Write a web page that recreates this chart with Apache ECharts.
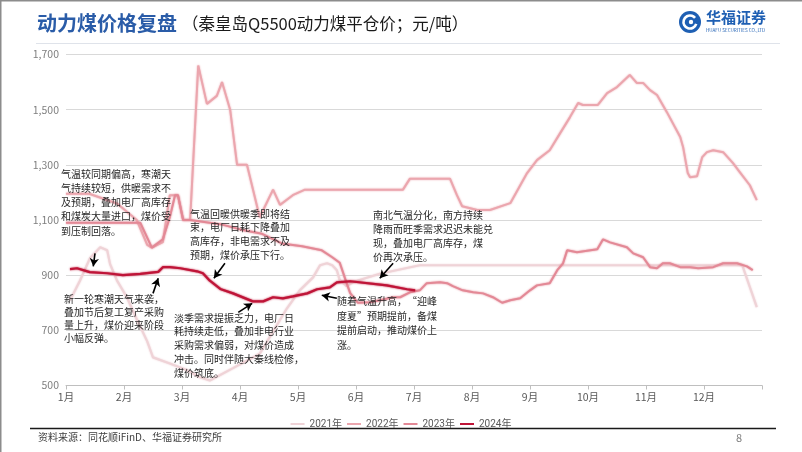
<!DOCTYPE html>
<html><head><meta charset="utf-8">
<script src="https://cdn.jsdelivr.net/npm/echarts@6/dist/echarts.min.js"></script>
<style>html,body{margin:0;padding:0;background:#fff}#c{width:802px;height:452px}</style>
</head><body><div id="c"></div>
<script>
// x = month position (0 = 1 Jan, 12 = 31 Dec), y = price (元/吨)
const monthLabels = ['1月','2月','3月','4月','5月','6月','7月','8月','9月','10月','11月','12月'];
const legendNames = ['2021年','2022年','2023年','2024年'];
const yTicks = [500, 700, 900, 1100, 1300, 1500, 1700];

const x2021 = [0.07,0.24,0.41,0.59,0.71,0.76,0.88,1.05,1.22,1.40,1.50,1.79,2.09,2.31,2.48,2.88,3.34,3.81,4.03,4.26,4.38,4.50,4.59,4.67,4.72,4.84,4.95,5.41,6.10,11.66,11.91];
const y2021 = [809,880,960,1001,990,940,880,820,740,660,602,580,555,530,518,563,615,780,845,892,936,943,936,918,882,860,875,905,936,936,784];

const x2022 = [0.00,0.40,0.88,1.22,1.40,1.48,1.67,1.79,1.93,2.02,2.14,2.28,2.43,2.60,2.69,2.83,2.95,3.12,3.34,3.57,3.69,3.91,4.12,5.81,5.93,6.62,6.74,6.83,7.09,7.31,7.66,7.95,8.12,8.34,8.52,8.69,8.83,8.91,9.17,9.33,9.50,9.72,9.84,9.95,10.07,10.19,10.36,10.59,10.64,10.72,10.76,10.88,10.97,11.05,11.16,11.33,11.50,11.62,11.79,11.91];
const y2022 = [1195,1195,1160,1100,1010,1000,1020,1190,1190,1100,1100,1660,1521,1550,1600,1500,1300,1300,1110,1210,1155,1190,1210,1210,1250,1250,1190,1150,1136,1136,1161,1270,1317,1353,1415,1473,1524,1517,1517,1560,1582,1626,1597,1597,1571,1553,1491,1401,1364,1270,1255,1259,1328,1346,1353,1346,1306,1273,1226,1172];

const x2023 = [0.00,1.28,1.48,1.67,1.79,1.88,1.93,2.02,2.14,2.66,3.02,3.38,3.72,4.07,4.41,4.59,4.72,4.84,4.90,5.03,5.24,5.41,5.64,5.76,5.93,6.10,6.22,6.45,6.57,6.67,6.84,7.02,7.19,7.36,7.52,7.66,7.83,8.00,8.12,8.34,8.47,8.57,8.64,8.81,9.16,9.26,9.38,9.67,9.78,9.95,10.07,10.19,10.29,10.41,10.59,10.76,10.90,11.16,11.33,11.57,11.74,11.84];
const y2023 = [1090,1090,1000,1030,1110,1190,1190,1100,1100,1085,1065,1050,1015,1005,990,965,945,870,835,800,802,809,820,820,838,845,871,874,871,860,845,838,834,820,800,809,816,845,863,871,918,943,990,983,994,1030,1019,1001,979,965,929,925,943,943,929,929,925,929,943,943,932,918];

const x2024 = [0.07,0.19,0.41,0.71,0.98,1.28,1.59,1.67,1.79,1.97,2.26,2.36,2.48,2.66,2.88,3.22,3.40,3.57,3.74,3.91,4.16,4.33,4.55,4.67,4.90,5.53,5.88,6.02];
const y2024 = [922,925,911,907,900,905,912,929,929,925,914,907,880,850,834,805,805,820,816,823,834,849,856,874,878,863,849,845];

// annotation arrows: [x1, y1, x2(tip), y2(tip)] in data units
const arrows = [
  [0.50, 979, 0.47, 932],
  [1.50, 834, 1.59, 889],
  [2.74, 943, 2.55, 889],
  [2.97, 765, 3.21, 798],
  [5.64, 943, 5.41, 889],
  [4.67, 816, 4.41, 827]
];
const notes = [
  '气温较同期偏高，寒潮天\n气持续较短，供暖需求不\n及预期，叠加电厂高库存\n和煤炭大量进口，煤价受\n到压制回落。',
  '新一轮寒潮天气来袭，\n叠加节后复工复产采购\n量上升，煤价迎来阶段\n小幅反弹。',
  '气温回暖供暖季即将结\n束，电厂日耗下降叠加\n高库存，非电需求不及\n预期，煤价承压下行。',
  '淡季需求提振乏力，电厂日\n耗持续走低，叠加非电行业\n采购需求偏弱，对煤价造成\n冲击。同时伴随大秦线检修，\n煤价筑底。',
  '南北气温分化，南方持续\n降雨而旺季需求迟迟未能兑\n现，叠加电厂高库存，煤\n价再次承压。',
  '随着气温升高，“迎峰\n度夏”预期提前，备煤\n提前启动，推动煤价上\n涨。'
];
const notePos = [[61,167,14.2],[64,293,13],[190,207,13.8],[174,311,13.8],[373,208,14],[337,294,14.6]];

const zip = (xs, ys) => xs.map((x, i) => [x, ys[i]]);
const colors = ['#efd3d7', '#eba6ae', '#e38996', '#bf1538'];
const FONT = '"Noto Sans CJK SC", "Noto Sans", sans-serif';

const chart = echarts.init(document.getElementById('c'), null, {renderer: 'canvas'});

const mkSeries = (name, data, color, z, w) => ({
  name, type: 'line', data, showSymbol: false, symbol: 'none', z,
  lineStyle: {color, width: w, shadowColor: color, shadowBlur: 2},
  itemStyle: {color}, animation: false
});

const series = [
  mkSeries(legendNames[0], zip(x2021, y2021), colors[0], 2, 2.2),
  mkSeries(legendNames[1], zip(x2022, y2022), colors[1], 3, 2),
  mkSeries(legendNames[2], zip(x2023, y2023), colors[2], 4, 2),
  mkSeries(legendNames[3], zip(x2024, y2024), colors[3], 5, 2.2)
];
series[3].markLine = {
  silent: true, animation: false, symbol: ['none', 'arrow'], symbolSize: [7, 8],
  label: {show: false},
  lineStyle: {color: '#000', width: 1.6, type: 'solid'},
  data: arrows.map(a => [{coord: [a[0], a[1]]}, {coord: [a[2], a[3]]}])
};

const graphics = [
  {type: 'line', shape: {x1: 0.5, y1: 0, x2: 0.5, y2: 452}, style: {stroke: '#8c8c8c', lineWidth: 2}},
  {type: 'line', shape: {x1: 0, y1: 0.5, x2: 802, y2: 0.5}, style: {stroke: '#8c8c8c', lineWidth: 2}},
  {type: 'text', left: 37, top: 13, style: {text: '动力煤价格复盘', font: 'bold 20px ' + FONT, fill: '#2a5ca8'}},
  {type: 'text', left: 182, top: 15, style: {text: '（秦皇岛Q5500动力煤平仓价；元/吨）', font: '16.5px ' + FONT, fill: '#1a1a1a'}},
  {type: 'line', shape: {x1: 36, y1: 43.5, x2: 780, y2: 43.5}, style: {stroke: '#dfe3ea', lineWidth: 1}},
  // logo
  {type: 'circle', shape: {cx: 690, cy: 22, r: 11}, style: {fill: '#1e5fb3'}},
  {type: 'arc', shape: {cx: 690, cy: 22, r: 6.5, startAngle: 0.3, endAngle: 5.6}, style: {stroke: '#fff', lineWidth: 2.6, fill: null}},
  {type: 'circle', shape: {cx: 691, cy: 22, r: 2.2}, style: {fill: '#fff'}},
  {type: 'text', left: 706, top: 10, style: {text: '华福证券', font: 'bold 15px ' + FONT, fill: '#1e5fb3'}},
  {type: 'text', left: 706, top: 28, style: {text: 'HUAFU SECURITIES CO.,LTD', font: '4.6px ' + FONT, fill: '#1e5fb3'}},
  // footer
  {type: 'line', shape: {x1: 30, y1: 428.5, x2: 776, y2: 428.5}, style: {stroke: '#1a1a1a', lineWidth: 1.5}},
  {type: 'text', left: 38, top: 432, style: {text: '资料来源：同花顺iFinD、华福证券研究所', font: '10px ' + FONT, fill: '#404040'}},
  {type: 'text', left: 736, top: 432, style: {text: '8', font: '11px ' + FONT, fill: '#7f7f7f'}}
];
notes.forEach((t, i) => {
  graphics.push({type: 'text', left: notePos[i][0], top: notePos[i][1], z: 100,
    style: {text: t, font: '10px ' + FONT, fill: '#262626', lineHeight: notePos[i][2]}});
});

chart.setOption({
  animation: false,
  backgroundColor: '#fff',
  grid: {left: 66, right: 40, top: 54.5, bottom: 66.5},
  legend: {
    data: legendNames, top: 414, left: 'center', icon: 'rect', itemWidth: 14, itemHeight: 2,
    itemGap: 5, textStyle: {fontSize: 10, color: '#595959', fontFamily: 'Roboto, ' + FONT}
  },
  xAxis: {
    type: 'value', min: 0, max: 12, interval: 1,
    axisLine: {show: true, lineStyle: {color: '#bfbfbf'}},
    axisTick: {show: true, length: 4, lineStyle: {color: '#bfbfbf'}},
    splitLine: {show: false},
    axisLabel: {
      color: '#595959', fontSize: 10.5, fontFamily: FONT, margin: 6,
      formatter: v => (v < 12 ? monthLabels[Math.round(v)] : '')
    }
  },
  yAxis: {
    type: 'value', min: yTicks[0], max: yTicks[yTicks.length - 1], interval: 200,
    axisLine: {show: false}, axisTick: {show: false},
    splitLine: {lineStyle: {color: '#d9d9d9', width: 1}},
    axisLabel: {
      color: '#7f7f7f', fontSize: 10.5, fontFamily: FONT, margin: 7,
      formatter: v => v.toLocaleString('en-US')
    }
  },
  series,
  graphic: graphics
});
</script>
</body></html>
